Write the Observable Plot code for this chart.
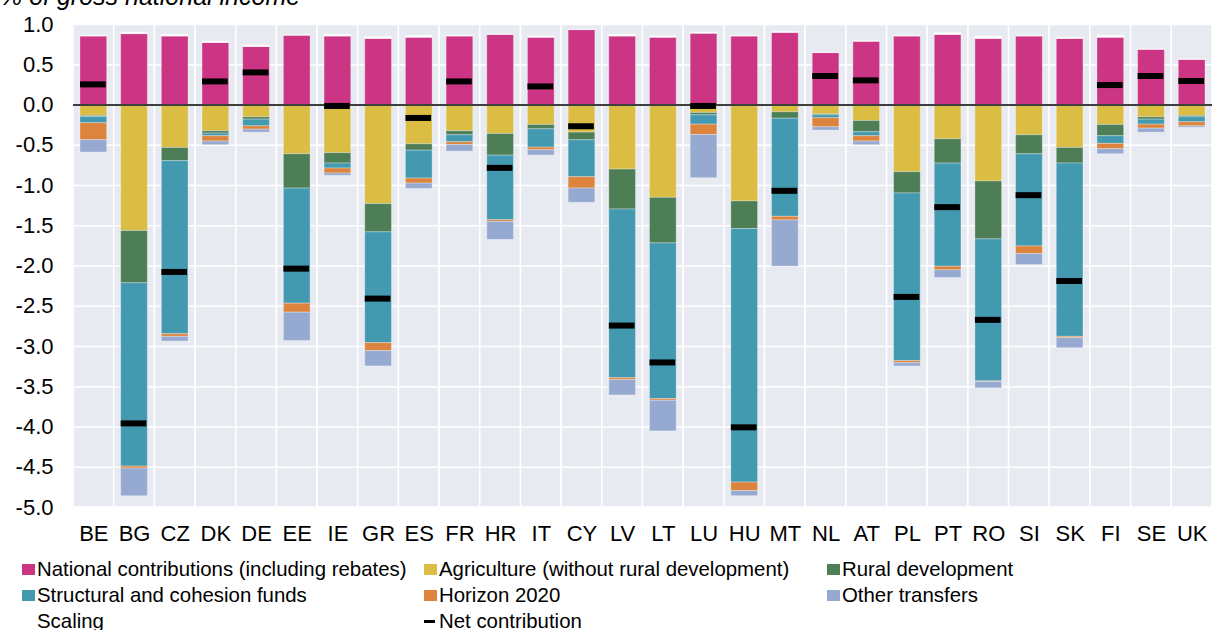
<!DOCTYPE html>
<html>
<head>
<meta charset="utf-8">
<script src="https://cdn.jsdelivr.net/npm/d3@7"></script>
<script src="https://cdn.jsdelivr.net/npm/@observablehq/plot@0.6"></script>
<style>
  html, body { margin: 0; padding: 0; background: #fff; overflow: hidden; }
  body { width: 1212px; height: 630px; position: relative; font-family: "Liberation Sans", Arial, sans-serif; color: #000; }
  #title { position: absolute; left: 0; top: -16px; font-size: 25px; font-style: italic; line-height: 25px; white-space: nowrap; }
  #chart { position: absolute; left: 0; top: 0; }
  .lg { position: absolute; font-size: 20.4px; line-height: 20px; white-space: nowrap; }
  .sw { position: absolute; width: 13px; height: 11px; }
</style>
</head>
<body>
<div id="chart"></div>
<div id="title">% of gross national income</div>
<div id="legend"></div>
<script>
const countries = ["BE","BG","CZ","DK","DE","EE","IE","GR","ES","FR","HR","IT","CY","LV","LT","LU","HU","MT","NL","AT","PL","PT","RO","SI","SK","FI","SE","UK"];

const national    = [0.85,0.88,0.85,0.77,0.72,0.86,0.85,0.82,0.835,0.85,0.87,0.835,0.93,0.85,0.835,0.885,0.85,0.895,0.645,0.785,0.85,0.87,0.82,0.85,0.82,0.835,0.685,0.56];
const scaling     = [0.012,0.02,0.02,0.016,0.02,0.008,0.02,0.025,0.025,0.012,0.008,0.02,0.008,0.025,0.02,0.016,0.008,0.012,0.008,0.008,0.008,0.025,0.033,0.008,0.016,0.025,0.008,0.008];
const agriculture = [-0.136,-1.566,-0.533,-0.326,-0.153,-0.612,-0.599,-1.231,-0.488,-0.326,-0.36,-0.248,-0.343,-0.802,-1.153,-0.099,-1.198,-0.091,-0.116,-0.198,-0.835,-0.426,-0.95,-0.376,-0.533,-0.248,-0.153,-0.136];
const rural       = [-0.012,-0.649,-0.165,-0.029,-0.029,-0.426,-0.128,-0.351,-0.079,-0.05,-0.269,-0.054,-0.095,-0.496,-0.566,-0.029,-0.343,-0.079,-0.012,-0.14,-0.264,-0.302,-0.719,-0.236,-0.194,-0.14,-0.029,-0.017];
const structural  = [-0.079,-2.277,-2.149,-0.033,-0.083,-1.43,-0.062,-1.376,-0.347,-0.087,-0.802,-0.227,-0.459,-2.095,-1.934,-0.116,-3.149,-1.219,-0.037,-0.05,-2.083,-1.281,-1.764,-1.145,-2.153,-0.095,-0.062,-0.062];
const horizon     = [-0.21,-0.025,-0.033,-0.066,-0.041,-0.112,-0.062,-0.099,-0.062,-0.033,-0.021,-0.033,-0.14,-0.025,-0.021,-0.128,-0.107,-0.045,-0.112,-0.066,-0.025,-0.045,-0.008,-0.095,-0.017,-0.066,-0.05,-0.05];
const other       = [-0.153,-0.343,-0.058,-0.045,-0.037,-0.351,-0.029,-0.19,-0.066,-0.083,-0.223,-0.066,-0.178,-0.19,-0.38,-0.537,-0.062,-0.574,-0.041,-0.045,-0.041,-0.095,-0.079,-0.136,-0.124,-0.062,-0.05,-0.017];
const net         = [0.256,-3.955,-2.074,0.293,0.405,-2.033,-0.012,-2.405,-0.161,0.293,-0.781,0.231,-0.264,-2.74,-3.198,-0.012,-4.004,-1.066,0.36,0.306,-2.384,-1.269,-2.669,-1.12,-2.186,0.248,0.36,0.298];

const yTicks = [1.0,0.5,0.0,-0.5,-1.0,-1.5,-2.0,-2.5,-3.0,-3.5,-4.0,-4.5,-5.0];

const seriesNames = ["National contributions (including rebates)","Scaling","Agriculture (without rural development)","Rural development","Structural and cohesion funds","Horizon 2020","Other transfers"];
const seriesValues = [national, scaling, agriculture, rural, structural, horizon, other];
const seriesColors = ["#cc3583","#ffffff","#dabd42","#4d7e55","#4299b0","#dc843e","#96a9d0"];

const rows = [];
seriesNames.forEach((s, k) => countries.forEach((c, i) => rows.push({country: c, series: s, value: seriesValues[k][i]})));
const netRows = countries.map((c, i) => ({country: c, net: net[i]}));

const plot = Plot.plot({
  width: 1212,
  height: 545,
  marginTop: 24,
  marginBottom: 38,
  marginLeft: 73,
  marginRight: 0,
  style: {fontFamily: "'Liberation Sans', Arial, sans-serif", fontSize: "22px", color: "#000", background: "transparent"},
  x: {domain: countries, padding: 0, round: false, label: null},
  y: {domain: [-5, 1], label: null},
  color: {domain: seriesNames, range: seriesColors},
  marks: [
    Plot.barY(countries, {x: d => d, y1: -5, y2: 1, fill: "#e8eaf2", stroke: "#ffffff", strokeWidth: 1.5}),
    Plot.ruleY(yTicks, {stroke: "#ffffff", strokeWidth: 1.5}),
    Plot.barY(rows, {x: "country", y: "value", fill: "series", order: seriesNames, insetLeft: 7, insetRight: 7, stroke: "#ffffff", strokeOpacity: 0.3, strokeWidth: 1}),
    Plot.ruleY([0], {stroke: "#3e3e3e", strokeWidth: 2}),
    Plot.tickY(netRows, {x: "country", y: "net", stroke: "#000000", strokeWidth: 6, insetLeft: 7, insetRight: 8}),
    Plot.axisY({ticks: yTicks, tickFormat: d => d.toFixed(1), tickSize: 0, tickPadding: 20, fontSize: 22}),
    Plot.axisX({tickSize: 0, tickPadding: 18, fontSize: 22})
  ]
});
document.getElementById("chart").appendChild(plot);

// legend
const legendItems = [
  {label: seriesNames[0], color: seriesColors[0], x: 22, y: 569},
  {label: seriesNames[2], color: seriesColors[2], x: 424, y: 569},
  {label: seriesNames[3], color: seriesColors[3], x: 827, y: 569},
  {label: seriesNames[4], color: seriesColors[4], x: 22, y: 595},
  {label: seriesNames[5], color: seriesColors[5], x: 424, y: 595},
  {label: seriesNames[6], color: seriesColors[6], x: 827, y: 595},
  {label: "Scaling", color: seriesColors[1], x: 22, y: 621},
  {label: "Net contribution", color: "#000000", x: 424, y: 621, dash: true}
];
const lg = document.getElementById("legend");
legendItems.forEach(it => {
  const sw = document.createElement("div");
  sw.className = "sw";
  sw.style.left = it.x + "px";
  if (it.dash) {
    sw.style.top = (it.y - 1.5) + "px";
    sw.style.height = "3px";
    sw.style.width = "11px";
  } else {
    sw.style.top = (it.y - 5.5) + "px";
  }
  sw.style.background = it.color;
  lg.appendChild(sw);
  const t = document.createElement("div");
  t.className = "lg";
  t.style.left = (it.x + 15) + "px";
  t.style.top = (it.y - 10) + "px";
  t.textContent = it.label;
  lg.appendChild(t);
});
</script>
</body>
</html>
